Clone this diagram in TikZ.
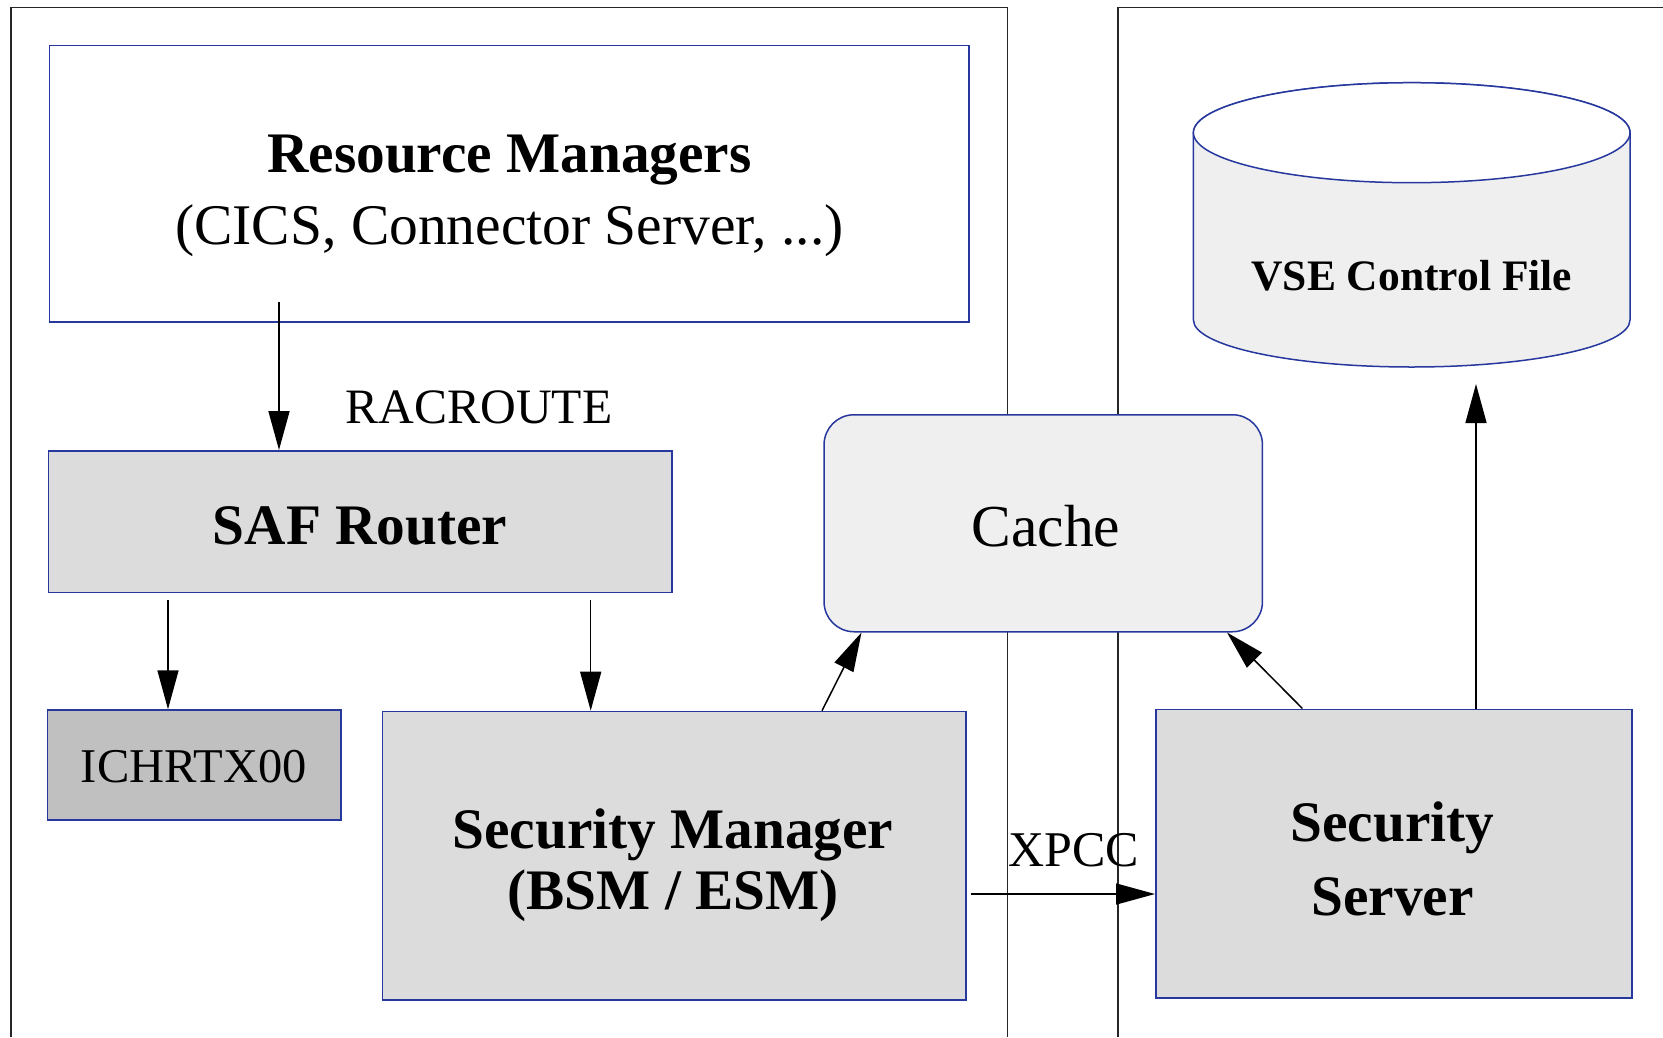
\documentclass[tikz,border=0pt]{standalone}
\usepackage{fontspec}
\setmainfont{Liberation Serif}
\usetikzlibrary{arrows.meta}
\definecolor{bord}{RGB}{38,56,158}
\definecolor{gA}{RGB}{220,220,220}
\definecolor{gB}{RGB}{192,192,192}
\definecolor{gC}{RGB}{239,239,239}
\tikzset{
  box/.style={draw=bord, line width=1.5pt, anchor=north west, inner sep=0pt, rectangle},
  lbl/.style={anchor=base, inner sep=0pt},
  bfont/.style={font=\fontsize{57.3}{60}\selectfont\bfseries},
  frame/.style={draw=black!85, line width=1.8pt},
  arr/.style={draw=black, line width=1.5pt, -{Triangle[length=39pt,width=21pt]}},
}
\begin{document}
\begin{tikzpicture}[x=1pt,y=-1pt]
\useasboundingbox (0,0) rectangle (1663,1037);
% frames
\draw[frame] (11,1037) -- (11,7.4) -- (1007.5,7.4) -- (1007.5,1037);
\draw[frame] (1118,1037) -- (1118,7.4) -- (1663,7.4);
% boxes
\node[box, fill=white, minimum width=919.5pt, minimum height=276.9pt] (rm) at (48.8,44.5) {};
\node[box, fill=gA, minimum width=623.7pt, minimum height=141.8pt] (saf) at (47.7,450) {};
\node[box, fill=gB, minimum width=293.3pt, minimum height=110pt] (ich) at (46.7,709.3) {};
\node[box, fill=gA, minimum width=583.7pt, minimum height=288.3pt] (sm) at (381.5,710.7) {};
\node[box, fill=gC, rounded corners=30pt, minimum width=438.4pt, minimum height=217pt] (cache) at (823.3,414) {};
\node[box, fill=gA, minimum width=476.2pt, minimum height=288.5pt] (ss) at (1155,708.5) {};
% cylinder
\path[fill=gC, draw=bord, line width=1.5pt] (1193.4,132.7) -- (1193.4,320)
  arc[start angle=180, end angle=360, x radius=218.3pt, y radius=47pt]
  -- (1630,132.7)
  arc[start angle=0, end angle=180, x radius=218.3pt, y radius=50pt] -- cycle;
\draw[fill=white, draw=bord, line width=1.5pt] (1411.7,132.7) ellipse [x radius=218.3pt, y radius=50pt];
% labels
\node[lbl, bfont] (rmt) at (509.5,172) {Resource Managers};
\node[lbl, font=\fontsize{57.5}{60}\selectfont] (rms) at (509.5,244.5) {(CICS, Connector Server, ...)};
\node[lbl, font=\fontsize{49.5}{55}\selectfont] (rac) at (479,423.3) {RACROUTE};
\node[lbl, bfont] (saft) at (360,544) {SAF Router};
\node[lbl, font=\fontsize{48.5}{55}\selectfont] (icht) at (194,782.7) {ICHRTX00};
\node[lbl, bfont] (smt1) at (673,848.3) {Security Manager};
\node[lbl, bfont] (smt2) at (673,909) {(BSM / ESM)};
\node[lbl, font=\fontsize{59.5}{62}\selectfont] (cat) at (1046,546.7) {Cache};
\node[lbl, font=\fontsize{50}{55}\selectfont] (xpcc) at (1073.8,866) {XPCC};
\node[lbl, bfont] (sst1) at (1392.5,841.7) {Security};
\node[lbl, bfont] (sst2) at (1392.5,915.7) {Server};
\node[lbl, font=\fontsize{43.5}{48}\selectfont\bfseries] (vse) at (1411.8,290) {VSE Control File};
% connectors
\coordinate (a1) at (279,302);
\draw[arr] (a1) -- (a1 |- saf.north);
\coordinate (a2) at (168,0);
\draw[arr] ([yshift=-7pt]saf.south -| a2) -- (ich.north -| a2);
\coordinate (a3) at (590.7,0);
\draw[arr] ([yshift=-7pt]saf.south -| a3) -- (sm.north -| a3);
\coordinate (a4) at (822,0);
\coordinate (a5) at (861.5,0);
\draw[arr] (sm.north -| a4) -- (cache.south -| a5);
\coordinate (a6) at (1302.4,0);
\coordinate (a7) at (1227,0);
\draw[arr] (ss.north -| a6) -- (cache.south -| a7);
\coordinate (a8) at (1476,384);
\draw[arr] (ss.north -| a8) -- (a8);
\coordinate (a9) at (970.5,0);
\draw[arr] (a9 |- 0,894) -- (ss.west |- 0,894);
\end{tikzpicture}
\end{document}
